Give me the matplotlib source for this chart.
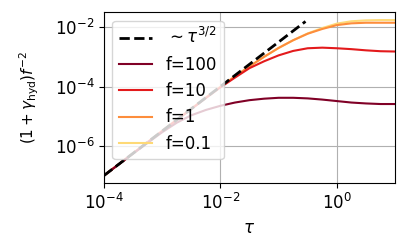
import numpy as np
import matplotlib
matplotlib.use("Agg")
import matplotlib.pyplot as plt
from matplotlib.ticker import NullLocator

log_tau = [-4.0, -3.75, -3.5, -3.25, -3.0, -2.75, -2.5, -2.25, -2.0, -1.75, -1.5,
           -1.25, -1.0, -0.75, -0.5, -0.25, 0.0, 0.25, 0.5, 0.75, 1.0]

# log10 of (1+gamma_hyd) f^-2 for each f
log_y_f100 = [-7.0, -6.63, -6.26, -5.90, -5.54, -5.22, -4.97, -4.79, -4.65, -4.54, -4.46,
              -4.41, -4.38, -4.38, -4.40, -4.44, -4.49, -4.54, -4.57, -4.59, -4.59]
log_y_f10 = [-7.0, -6.625, -6.25, -5.875, -5.5, -5.125, -4.76, -4.39, -4.03, -3.70, -3.38,
             -3.15, -2.95, -2.80, -2.71, -2.69, -2.71, -2.74, -2.78, -2.81, -2.82]
log_y_f1 = [-7.0, -6.625, -6.25, -5.875, -5.5, -5.125, -4.75, -4.375, -4.01, -3.66, -3.32,
            -3.00, -2.70, -2.44, -2.22, -2.06, -1.93, -1.87, -1.85, -1.85, -1.85]
log_y_f01 = [-7.0, -6.625, -6.25, -5.875, -5.5, -5.125, -4.75, -4.375, -4.01, -3.66, -3.32,
             -3.00, -2.70, -2.44, -2.21, -2.03, -1.88, -1.80, -1.77, -1.76, -1.76]

# tau^{3/2} guide line endpoints
guide_tau = [1e-4, 0.29]
guide_y = [1e-7, 1.0e-7 * (0.29 / 1e-4) ** 1.5]

labels = ["f=100", "f=10", "f=1", "f=0.1"]
colors = ["#800026", "#e31a1c", "#fd8d3c", "#fed976"]
series = [log_y_f100, log_y_f10, log_y_f1, log_y_f01]

xticks = [1e-4, 1e-2, 1e0]
yticks = [1e-6, 1e-4, 1e-2]

fig = plt.figure(figsize=(4.15, 2.46), dpi=100)
ax = fig.add_axes([0.2506, 0.2549, 0.7012, 0.6951])

tau = 10.0 ** np.array(log_tau)
handles = []
zs = [2.4, 2.3, 2.2, 2.1]
for lab, col, ly, z in zip(labels, colors, series, zs):
    h, = ax.plot(tau, 10.0 ** np.array(ly), color=col, lw=1.5, label=lab, zorder=z)
    handles.append(h)

hg, = ax.plot(guide_tau, guide_y, "k--", lw=2, label=r"$\sim\tau^{3/2}$", zorder=3)

ax.set_xscale("log")
ax.set_yscale("log")
ax.set_xlim(1e-4, 1e1)
ax.set_xticks(xticks)
ax.set_yticks(yticks)
ax.xaxis.set_minor_locator(NullLocator())
ax.yaxis.set_minor_locator(NullLocator())
ax.tick_params(labelsize=12)
ax.grid(True, which="major")
ax.set_xlabel(r"$\tau$", fontsize=12)
ax.set_ylabel(r"$(1+\gamma_{\rm hyd})f^{-2}$", fontsize=11)
ax.yaxis.set_label_coords(-0.215, 0.5)
ax.legend(handles=[hg] + handles, loc="upper left", fontsize=12)

fig.savefig("out.png", dpi=100)
